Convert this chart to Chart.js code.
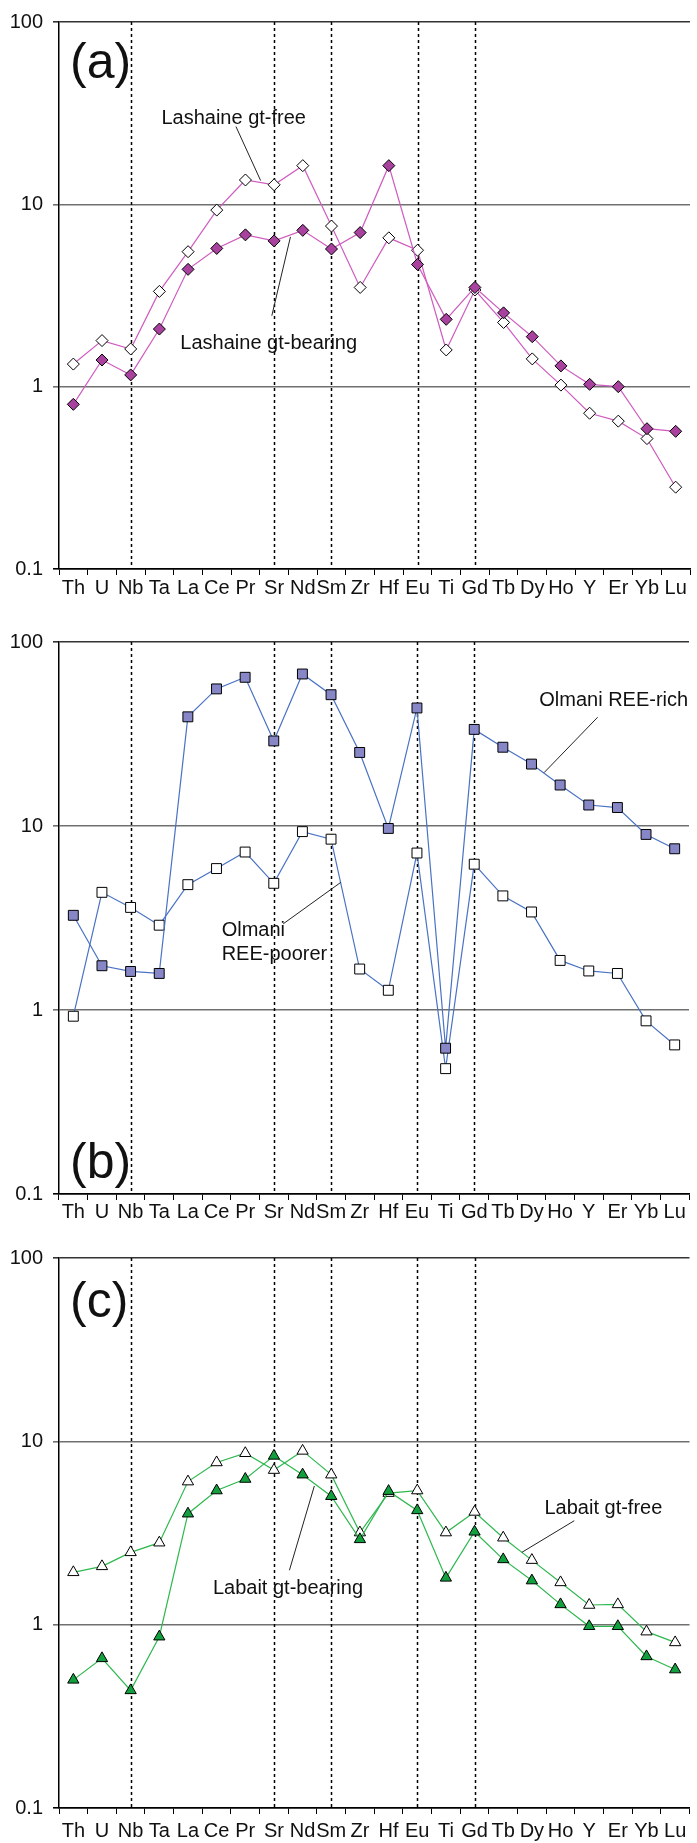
<!DOCTYPE html>
<html>
<head>
<meta charset="utf-8">
<script src="https://cdn.jsdelivr.net/npm/chart.js@4.4.1/dist/chart.umd.min.js"></script>
<style>
  body { margin: 0; background: #fff; width: 697px; height: 1843px; position: relative; overflow: hidden; }
  .panel { position: absolute; left: 0; width: 697px; }
</style>
</head>
<body>
<div class="panel" style="top:0;height:607px"><canvas id="chartA"></canvas></div>
<div class="panel" style="top:620px;height:612px"><canvas id="chartB"></canvas></div>
<div class="panel" style="top:1236px;height:607px"><canvas id="chartC"></canvas></div>
<script>
// spider diagram, normalised concentrations
const elements = ['Th','U','Nb','Ta','La','Ce','Pr','Sr','Nd','Sm','Zr','Hf','Eu','Ti','Gd','Tb','Dy','Ho','Y','Er','Yb','Lu'];
const dottedAt = ['Nb','Sr','Sm','Eu','Gd'];
const yTicks = [0.1, 1, 10, 100];

const lashaineFree    = [1.33,1.79,1.61,3.33,5.5,9.3,13.6,12.8,16.3,7.6,3.5,6.55,5.6,1.59,3.39,2.25,1.42,1.02,0.715,0.647,0.519,0.281];
const lashaineBearing = [0.80,1.40,1.16,2.07,4.40,5.73,6.8,6.3,7.2,5.69,7.0,16.3,4.68,2.34,3.5,2.54,1.88,1.30,1.03,1.0,0.588,0.569];

const olmaniRich   = [3.27,1.74,1.62,1.58,39.2,55.6,64.3,29.0,67,51.7,25.1,9.7,43.8,0.62,33.5,26.8,21.7,16.7,13.0,12.6,9.0,7.52];
const olmaniPoorer = [0.925,4.36,3.61,2.89,4.80,5.87,7.22,4.88,9.32,8.48,1.67,1.28,7.13,0.48,6.2,4.17,3.41,1.86,1.63,1.58,0.873,0.646];

const labaitFree    = [1.93,2.08,2.48,2.80,6.03,7.67,8.61,6.97,8.87,6.58,3.18,5.22,5.39,3.18,4.12,2.98,2.25,1.70,1.28,1.29,0.916,0.80];
const labaitBearing = [0.50,0.655,0.438,0.86,4.03,5.39,6.23,8.33,6.58,5.02,2.92,5.35,4.20,1.80,3.21,2.27,1.74,1.29,0.98,0.98,0.671,0.569];

const FONT = "'Liberation Sans', Arial, sans-serif";

// dotted lines, labels and leader lines
const overlay = {
  id: 'overlay',
  beforeDatasetsDraw(chart) {
    const { ctx, chartArea: a, scales: { x } } = chart;
    ctx.save();
    ctx.strokeStyle = '#000';
    ctx.lineWidth = 1.5;
    ctx.setLineDash([3, 3]);
    dottedAt.forEach(el => {
      const px = Math.round(x.getPixelForValue(elements.indexOf(el))) + 0.5;
      ctx.beginPath(); ctx.moveTo(px, a.top); ctx.lineTo(px, a.bottom); ctx.stroke();
    });
    ctx.restore();
  },
  afterDatasetsDraw(chart, args, opts) {
    const { ctx, chartArea: a, scales: { x, y } } = chart;
    ctx.save();
    ctx.fillStyle = '#111';
    ctx.textBaseline = 'middle';
    ctx.textAlign = 'left';
    ctx.font = '50px ' + FONT;
    const p = opts.panel;
    ctx.fillText(p.text, a.left + p.dx, p.fromBottom ? a.bottom - p.dy : a.top + p.dy);

    ctx.font = '20px ' + FONT;
    ctx.strokeStyle = '#222';
    ctx.lineWidth = 1;
    opts.notes.forEach(n => {
      const tx = x.getPixelForValue(n.x), ty = y.getPixelForValue(n.y);
      n.text.forEach((t, i) => ctx.fillText(t, tx, ty + i * 24));
      const l = n.line;
      ctx.beginPath();
      ctx.moveTo(x.getPixelForValue(l[0]), y.getPixelForValue(l[1]));
      ctx.lineTo(x.getPixelForValue(l[2]), y.getPixelForValue(l[3]));
      ctx.stroke();
    });
    ctx.restore();
  }
};

function makePanel(id, cfg) {
  return new Chart(document.getElementById(id), {
    type: 'line',
    data: {
      labels: elements,
      datasets: cfg.series.map(s => ({
        data: s.data,
        borderColor: cfg.lineColor,
        borderWidth: 1.2,
        pointStyle: cfg.pointStyle,
        pointRadius: cfg.radius,
        pointBackgroundColor: s.fill,
        pointBorderColor: '#000',
        pointBorderWidth: 1,
        tension: 0
      }))
    },
    options: {
      responsive: true,
      maintainAspectRatio: false,
      animation: false,
      layout: { padding: { top: cfg.padTop, right: 3, left: 0, bottom: 0 } },
      plugins: {
        legend: { display: false },
        tooltip: { enabled: false },
        overlay: { panel: cfg.panel, notes: cfg.notes }
      },
      scales: {
        x: {
          type: 'category',
          offset: true,
          afterFit: s => { s.height = cfg.xh; },
          grid: { offset: true, drawOnChartArea: false, drawTicks: true, tickLength: 6, color: '#000', lineWidth: 1 },
          border: { color: '#000', width: 1.5 },
          ticks: { autoSkip: false, maxRotation: 0, padding: cfg.xPad, color: '#111', font: { family: FONT, size: 20 } }
        },
        y: {
          type: 'logarithmic',
          min: 0.1,
          max: 100,
          afterFit: s => { s.width = 59; },
          afterBuildTicks: s => { s.ticks = yTicks.map(v => ({ value: v })); },
          grid: {
            color: c => c.tick && c.tick.value === 100 ? '#333' : (c.tick && c.tick.value === 0.1 ? '#000' : '#707070'),
            lineWidth: 1.6,
            tickLength: 6
          },
          border: { color: '#000', width: 1.5 },
          ticks: { padding: 10, color: '#111', font: { family: FONT, size: 20 }, callback: v => String(v) }
        }
      }
    },
    plugins: [overlay]
  });
}

makePanel('chartA', {
  padTop: 14, xh: 38, xPad: 1,
  lineColor: '#cf5cbf', pointStyle: 'rectRot', radius: 6,
  series: [
    { data: lashaineBearing, fill: '#a8429e' },
    { data: lashaineFree, fill: '#ffffff' }
  ],
  panel: { text: '(a)', dx: 11, dy: 42 },
  notes: [
    { text: ['Lashaine gt-free'], x: 3.07, y: 29.5, line: [5.67, 26.7, 6.53, 13.5] },
    { text: ['Lashaine gt-bearing'], x: 3.73, y: 1.73, line: [6.92, 2.45, 7.57, 6.63] }
  ]
});

makePanel('chartB', {
  padTop: 16, xh: 38, xPad: 0,
  lineColor: '#4a72c4', pointStyle: 'rect', radius: 7,
  series: [
    { data: olmaniRich, fill: '#8787c8' },
    { data: olmaniPoorer, fill: '#ffffff' }
  ],
  panel: { text: '(b)', dx: 11, dy: 30, fromBottom: true },
  notes: [
    { text: ['Olmani REE-rich'], x: 16.27, y: 48.2, line: [18.31, 39.0, 16.44, 19.5] },
    { text: ['Olmani', 'REE-poorer'], x: 5.18, y: 2.69, line: [7.33, 2.94, 9.34, 4.94] }
  ]
});

makePanel('chartC', {
  padTop: 16, xh: 35, xPad: 5,
  lineColor: '#2fb850', pointStyle: 'triangle', radius: 6.5,
  series: [
    { data: labaitBearing, fill: '#12a03e' },
    { data: labaitFree, fill: '#ffffff' }
  ],
  panel: { text: '(c)', dx: 11, dy: 45 },
  notes: [
    { text: ['Labait gt-free'], x: 16.44, y: 4.29, line: [17.48, 3.69, 15.65, 2.48] },
    { text: ['Labait gt-bearing'], x: 4.87, y: 1.585, line: [8.41, 5.71, 7.54, 1.98] }
  ]
});
</script>
</body>
</html>
